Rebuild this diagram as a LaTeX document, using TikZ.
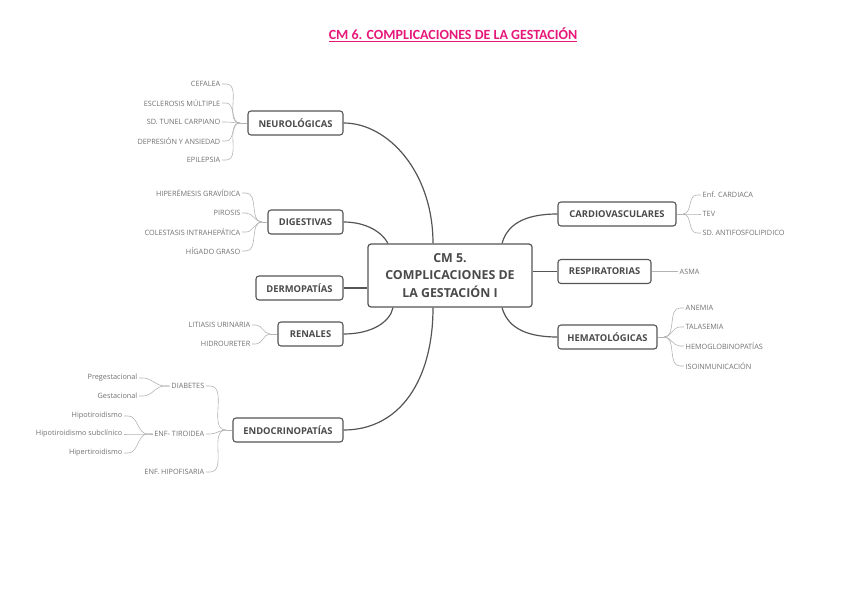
\documentclass[tikz,border=0pt]{standalone}
\usepackage{fontspec}
\newfontfamily\mmfont{Open Sans}
\newfontfamily\titlefont{Carlito}
\definecolor{boxc}{HTML}{555555}
\definecolor{textc}{HTML}{4A4A4A}
\definecolor{leafc}{HTML}{707070}
\definecolor{thinc}{HTML}{B4B4B4}
\definecolor{pinkc}{HTML}{E6197A}
\tikzset{
  branch/.style={draw=boxc, line width=1.1pt, rounded corners=3pt, fill=white,
    font=\mmfont\bfseries\fontsize{9.4}{11}\selectfont, text=textc, inner sep=0pt, minimum height=24pt},
  central/.style={draw=boxc, line width=1.2pt, rounded corners=3pt, fill=white,
    font=\mmfont\bfseries\fontsize{12.4}{17.5}\selectfont, text=textc, inner sep=0pt,
    minimum width=164pt, minimum height=63pt, align=center},
  leaf/.style={font=\mmfont\fontsize{7.3}{8}\selectfont, text=leafc, inner sep=1.5pt},
  conn/.style={draw=boxc, line width=1.2pt},
  thin/.style={draw=thinc, line width=0.6pt},
}
\begin{document}
\begin{tikzpicture}[x=1pt,y=-1pt]
\useasboundingbox (0,0) rectangle (848,599);
\node[font=\titlefont\bfseries\fontsize{14}{16}\selectfont, text=pinkc] (title) at (453,35) {\underline{CM 6. COMPLICACIONES DE LA GESTACIÓN}};

% central
\node[central] (cen) at (450,275.5) {CM 5.\\COMPLICACIONES DE\\LA GESTACIÓN I};

% branches
\node[branch, minimum width=95pt] (neu) at (295.5,123) {NEUROLÓGICAS};
\node[branch, minimum width=75pt] (dig) at (305.5,222) {DIGESTIVAS};
\node[branch, minimum width=87pt] (der) at (299.5,288) {DERMOPATÍAS};
\node[branch, minimum width=65pt] (ren) at (310.5,334) {RENALES};
\node[branch, minimum width=110pt] (end) at (288,430) {ENDOCRINOPATÍAS};
\node[branch, minimum width=118pt] (car) at (617,214) {CARDIOVASCULARES};
\node[branch, minimum width=93pt] (res) at (604.5,271.5) {RESPIRATORIAS};
\node[branch, minimum width=99pt] (hem) at (607.5,337) {HEMATOLÓGICAS};

% main connectors
\draw[conn] (neu.east) .. controls (388,123) and (433,172) .. ([xshift=-17pt]cen.north);
\draw[conn] (dig.east) .. controls (366,222) and (382,232) .. ([xshift=-62pt]cen.north);
\draw[conn] (der.east) -- (der.east -| cen.west);
\draw[conn] (ren.east) .. controls (372,334) and (390,322) .. ([xshift=-57pt]cen.south);
\draw[conn] (end.east) .. controls (400,430) and (433,380) .. ([xshift=-17pt]cen.south);
\draw[conn] (car.west) .. controls (522,214) and (507,226) .. ([xshift=52pt]cen.north);
\draw[conn] (res.west) -- (res.west -| cen.east);
\draw[conn] (hem.west) .. controls (522,337) and (507,325) .. ([xshift=52pt]cen.south);

% Neurologicas leaves
\coordinate (jn) at (240,123);
\node[leaf, anchor=east] (n1) at (222,84) {CEFALEA};
\node[leaf, anchor=east] (n2) at (222,103) {ESCLEROSIS MÚLTIPLE};
\node[leaf, anchor=east] (n3) at (222,122) {SD. TUNEL CARPIANO};
\node[leaf, anchor=east] (n4) at (222,141) {DEPRESIÓN Y ANSIEDAD};
\node[leaf, anchor=east] (n5) at (222,160) {EPILEPSIA};
\draw[thin] (jn) -- (neu.west);
\foreach \n in {n1,n2,n3,n4,n5}{\draw[thin] (\n.east) -- ++(4,0) to[out=0,in=180] (jn);}

% Digestivas leaves
\coordinate (jd) at (262,222);
\node[leaf, anchor=east] (d1) at (242,193) {HIPERÉMESIS GRAVÍDICA};
\node[leaf, anchor=east] (d2) at (242,213) {PIROSIS};
\node[leaf, anchor=east] (d3) at (242,232) {COLESTASIS INTRAHEPÁTICA};
\node[leaf, anchor=east] (d4) at (242,251) {HÍGADO GRASO};
\draw[thin] (jd) -- (dig.west);
\foreach \n in {d1,d2,d3,d4}{\draw[thin] (\n.east) -- ++(4,0) to[out=0,in=180] (jd);}

% Renales leaves
\coordinate (jr) at (270,334);
\node[leaf, anchor=east] (r1) at (252,325) {LITIASIS URINARIA};
\node[leaf, anchor=east] (r2) at (252,344) {HIDROURETER};
\draw[thin] (jr) -- (ren.west);
\foreach \n in {r1,r2}{\draw[thin] (\n.east) -- ++(4,0) to[out=0,in=180] (jr);}

% Endocrinopatias leaves
\coordinate (je) at (226,430);
\node[leaf, anchor=east] (e1) at (206,386) {DIABETES};
\node[leaf, anchor=east] (e2) at (206,434) {ENF- TIROIDEA};
\node[leaf, anchor=east] (e3) at (206,472) {ENF. HIPOFISARIA};
\draw[thin] (je) -- (end.west);
\foreach \n in {e1,e2,e3}{\draw[thin] (\n.east) -- ++(4,0) to[out=0,in=180] (je);}

\node[leaf, anchor=east] (p1) at (139,378) {Pregestacional};
\node[leaf, anchor=east] (p2) at (139,396) {Gestacional};
\foreach \n in {p1,p2}{\draw[thin] (\n.east) -- ++(4,0) to[out=0,in=180] ([xshift=-5pt]e1.west) -- (e1.west);}

\node[leaf, anchor=east] (t1) at (124,416) {Hipotiroidismo};
\node[leaf, anchor=east] (t2) at (124,434) {Hipotiroidismo subclínico};
\node[leaf, anchor=east] (t3) at (124,453) {Hipertiroidismo};
\foreach \n in {t1,t2,t3}{\draw[thin] (\n.east) -- ++(4,0) to[out=0,in=180] ([xshift=-5pt]e2.west) -- (e2.west);}

% Cardio leaves
\coordinate (jc) at (683,214);
\node[leaf, anchor=west] (c1) at (701,195) {Enf. CARDIACA};
\node[leaf, anchor=west] (c2) at (701,214) {TEV};
\node[leaf, anchor=west] (c3) at (701,233) {SD. ANTIFOSFOLIPIDICO};
\draw[thin] (car.east) -- (jc);
\foreach \n in {c1,c2,c3}{\draw[thin] (jc) to[out=0,in=180] ([xshift=-4pt]\n.west) -- (\n.west);}

% Respiratorias leaf
\node[leaf, anchor=west] (a1) at (678,271.5) {ASMA};
\draw[thin] (res.east) -- (a1.west);

% Hemato leaves
\coordinate (jh) at (664,337);
\node[leaf, anchor=west] (h1) at (684,308) {ANEMIA};
\node[leaf, anchor=west] (h2) at (684,327) {TALASEMIA};
\node[leaf, anchor=west] (h3) at (684,346) {HEMOGLOBINOPATÍAS};
\node[leaf, anchor=west] (h4) at (684,366) {ISOINMUNICACIÓN};
\draw[thin] (hem.east) -- (jh);
\foreach \n in {h1,h2,h3,h4}{\draw[thin] (jh) to[out=0,in=180] ([xshift=-4pt]\n.west) -- (\n.west);}
\end{tikzpicture}
\end{document}
